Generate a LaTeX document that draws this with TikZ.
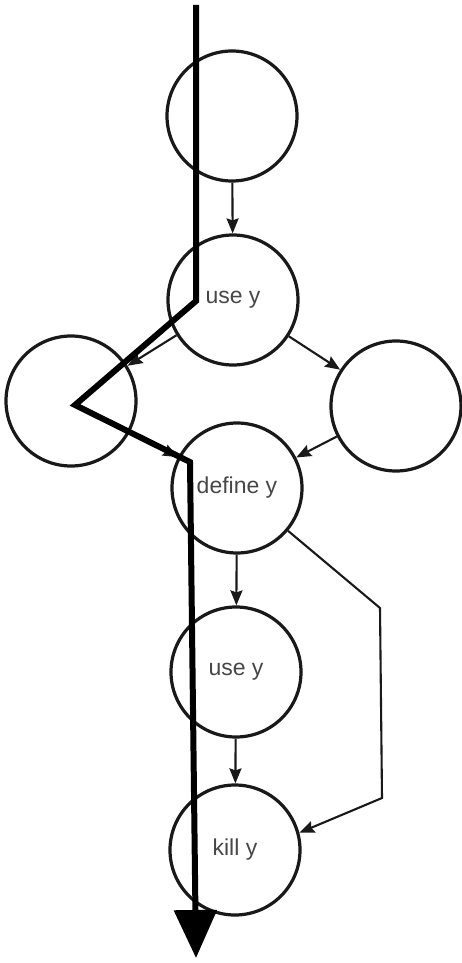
\documentclass[tikz,border=0pt]{standalone}
\usepackage{fontspec}
\setmainfont{Liberation Sans}
\usetikzlibrary{arrows.meta}
\begin{document}
\begin{tikzpicture}[x=1pt,y=-1pt,
  blk/.style={circle, draw=black!90, line width=3.2pt, minimum size=130pt, inner sep=0pt,
    font=\fontsize{23}{27}\selectfont, text=black!72},
  conn/.style={draw=black!90, line width=2.1pt, -{Stealth[length=15pt,width=12pt,inset=2pt]}},
  flow/.style={draw=black, line width=6pt, -{Triangle[length=48pt,width=42pt]}}]
\useasboundingbox (0,0) rectangle (461,963);
\node[blk] (a) at (232,116) {};
\node[blk] (b) at (233,300) {use y};
\node[blk] (l) at (71,401) {};
\node[blk] (r) at (396,406) {};
\node[blk] (d) at (237,488) {define y};
\node[blk] (u) at (236,672) {use y};
\node[blk] (k) at (235,850) {kill y};
\draw[conn] (a) -- (b);
\draw[conn] (b) -- (l);
\draw[conn] (b) -- (r);
\draw[conn] (l) -- (d);
\draw[conn] (r) -- (d);
\draw[conn] (d) -- (u);
\draw[conn] (u) -- (k);
\coordinate (p1) at (380,608);
\coordinate (p2) at (382,798);
\draw[conn] (d.-40) -- (p1) -- (p2) -- (k.15);
\coordinate (f0) at (196,5);
\coordinate (f1) at (196,301);
\coordinate (f2) at (75,405);
\coordinate (f3) at (190,462);
\coordinate (f4) at (196,958);
\draw[flow] (f0) -- (f1) -- (f2) -- (f3) -- (f4);
\end{tikzpicture}
\end{document}
